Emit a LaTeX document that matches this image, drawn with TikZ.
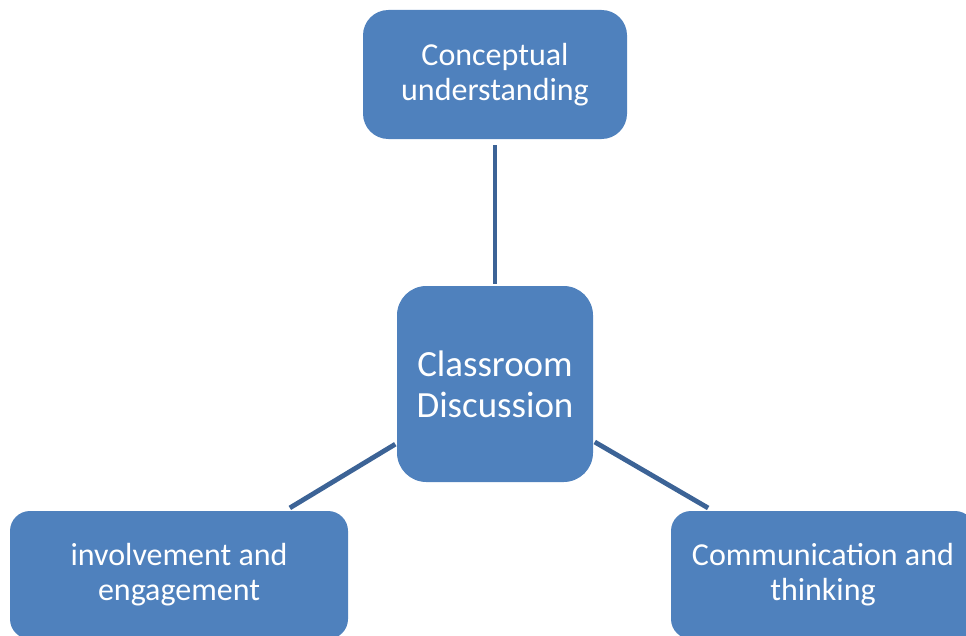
\documentclass[tikz,border=0pt]{standalone}
\usepackage{fontspec}
\setmainfont{Carlito}
\definecolor{boxblue}{RGB}{79,129,189}
\definecolor{linkblue}{RGB}{60,99,150}
\def\boxfont{\fontsize{24}{26.25}\selectfont}

\begin{document}
\begin{tikzpicture}[x=0.75pt,y=-0.75pt]
        \tikzstyle{box}=[rectangle,fill=boxblue,text=white,align=center,inner sep=0pt,outer sep=0pt,font=\boxfont]
        \tikzstyle{link}=[draw=linkblue,line width=3.6pt,shorten <=4.5pt,shorten >=1.5pt]

        \useasboundingbox (0,0) rectangle (966,635);
        \clip (0,0) rectangle (966,635);

        % the four boxes
        \node[box,minimum width=198pt,minimum height=96.75pt,rounded corners=19pt] (cu) at (495,74.5) {Conceptual\\understanding};
        \node[box,minimum width=147pt,minimum height=147pt,rounded corners=22pt,font=\fontsize{27.7}{31}\selectfont] (cd) at (495,384) {Classroom\\Discussion};
        \node[box,minimum width=253.5pt,minimum height=96pt,rounded corners=15pt] (ie) at (179,575) {involvement and\\engagement};
        \node[box,minimum width=228pt,minimum height=96pt,rounded corners=15pt] (ct) at (823,575) {Communication and\\thinking};

        % links to the centre
        \foreach \outer in {cu,ie,ct}
            \path[link] (\outer) -- (cd);
\end{tikzpicture}
\end{document}
